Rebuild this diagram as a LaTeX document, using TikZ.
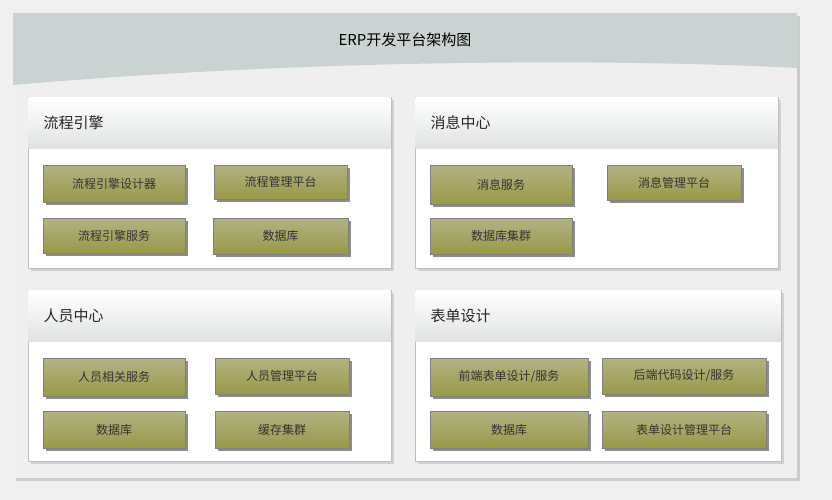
\documentclass[tikz,border=0pt]{standalone}
\usepackage{fontspec}
\setmainfont{Noto Sans CJK SC}
\begin{document}
\begin{tikzpicture}[x=1pt,y=-1pt,
  panel/.style={draw=black!25,fill=white,line width=0.6pt},
  phead/.style={top color=white,bottom color=black!10!cyan!5!white,draw=none},
  item/.style={draw=black!50,line width=0.5pt,top color=white!35!olive!40!gray!70,bottom color=olive!40!gray!80,font=\fontsize{12}{12}\selectfont,text=black!80},
  ptitle/.style={anchor=west,font=\fontsize{15}{15}\selectfont,text=black!85},
  shadowb/.style={fill=black!35}]
\useasboundingbox (0,0) rectangle (832,500);
\fill[black!6] (0,0) rectangle (832,500);
\fill[black!20] (16,16) rectangle (800,481);
\fill[white!60!cyan!8!gray!15] (13,13) rectangle (797,478);
\fill[white!45!teal!25!gray!40] (13,13) -- (797,13) -- (797,68) .. controls (600,58) and (300,60) .. (13,85) -- cycle;
\node (title) at (405,40) {\fontsize{15}{15}\selectfont ERP开发平台架构图};
% panels
\foreach \x/\y/\w in {28/97/363,415/97/363,28/290/363,415/290/366}{
  \fill[black!18] (\x+3,\y+3) rectangle (\x+\w+3,\y+174);
  \draw[panel] (\x,\y) rectangle (\x+\w,\y+171);
  \shade[top color=white,bottom color=cyan!8!black!12] (\x+0.5,\y+0.5) rectangle (\x+\w-0.5,\y+51);
}
\node[ptitle] (p1) at (40,123) {流程引擎};
\node[ptitle] (p2) at (427,123) {消息中心};
\node[ptitle] (p3) at (40,316) {人员中心};
\node[ptitle] (p4) at (427,316) {表单设计};
\newcommand\itm[6]{%
  \fill[black!45] (#2+3,#3+3) rectangle (#4+3,#5+3);
  \node[item,minimum width=#4-#2,minimum height=#5-#3,inner sep=0pt] (#1) at ({(#2+#4)/2},{(#3+#5)/2}) {#6};}
\itm{a1}{43}{165}{185}{202}{流程引擎设计器}
\itm{a2}{214}{165}{347}{199}{流程管理平台}
\itm{a3}{43}{218}{185}{253}{流程引擎服务}
\itm{a4}{213}{218}{348}{254}{数据库}
\itm{b1}{430}{165}{572}{204}{消息服务}
\itm{b2}{607}{165}{741}{200}{消息管理平台}
\itm{b3}{430}{218}{572}{254}{数据库集群}
\itm{c1}{43}{358}{185}{396}{人员相关服务}
\itm{c2}{215}{358}{349}{394}{人员管理平台}
\itm{c3}{43}{411}{185}{448}{数据库}
\itm{c4}{215}{411}{349}{448}{缓存集群}
\itm{d1}{430}{358}{588}{396}{前端表单设计/服务}
\itm{d2}{602}{358}{766}{394}{后端代码设计/服务}
\itm{d3}{430}{411}{588}{448}{数据库}
\itm{d4}{602}{411}{766}{448}{表单设计管理平台}
\end{tikzpicture}
\end{document}
